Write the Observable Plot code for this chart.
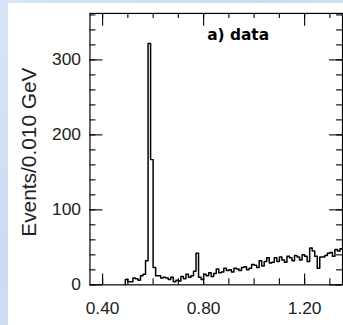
<!DOCTYPE html>
<html><head><meta charset="utf-8">
<script src="https://cdn.jsdelivr.net/npm/d3@7"></script>
<script src="https://cdn.jsdelivr.net/npm/@observablehq/plot@0.6"></script>
<style>
html,body{margin:0;padding:0;width:343px;height:325px;overflow:hidden;background:#d3e4f6;}
body{background:linear-gradient(135deg,#d6e6f7 0%,#c9dcf2 40%,#d8e7f7 70%,#cadcf1 100%);}
#panel{position:absolute;left:8px;top:3px;width:400px;height:400px;background:#fff;}
#chart{position:absolute;left:0;top:0;}
</style></head><body><div id="panel"></div><div id="chart"></div>
<script>
// histogram: bin lower edges start at binStart, width binWidth (GeV)
const binStart = 0.49;
const binWidth = 0.01;
const counts = [
  7, 4, 4, 9, 8, 6, 12, 14, 32, 322,
  167, 23, 12, 12, 9, 10, 9, 7, 10, 4,
  6, 5, 11, 8, 14, 10, 12, 18, 42, 10,
  7, 14, 12, 16, 11, 15, 21, 16, 17, 22,
  19, 20, 17, 22, 21, 19, 23, 24, 20, 22,
  27, 26, 23, 32, 25, 31, 36, 29, 30, 36,
  31, 37, 33, 30, 38, 36, 32, 39, 37, 33,
  40, 38, 31, 49, 45, 38, 22, 37, 37, 39,
  42, 43, 38, 47, 45, 48
];
const xMinorTicks = [0.4, 0.5, 0.6, 0.7, 0.8, 0.9, 1.0, 1.1, 1.2, 1.3];
const xMajorTicks = [0.4, 0.8, 1.2];
const yMinorTicks = [0, 20, 40, 60, 80, 100, 120, 140, 160, 180, 200, 220, 240, 260, 280, 300, 320, 340, 360];
const yMajorTicks = [0, 100, 200, 300];
const yLabel = "Events/0.010 GeV";
const panelLabel = "a) data";

const edges = counts.map((c, i) => +(binStart + i * binWidth).toFixed(3));
const endEdge = +(binStart + counts.length * binWidth).toFixed(3);
const steps = [{x: edges[0], y: 0}]
  .concat(counts.map((c, i) => ({x: edges[i], y: c})))
  .concat([{x: endEdge, y: counts[counts.length - 1]}]);

const W = 345, H = 325, mL = 90, mR = 1, mT = 13, mB = 39;
const pw = W - mL - mR, ph = H - mT - mB;

const chart = Plot.plot({
  width: W, height: H,
  marginLeft: mL, marginRight: mR, marginTop: mT, marginBottom: mB,
  style: {background: "transparent", fontFamily: "'Liberation Sans', Arial, sans-serif", color: "#222"},
  x: {domain: [0.35, 1.35]},
  y: {domain: [0, 362]},
  marks: [
    // inward ticks
    Plot.tickX(xMinorTicks, {x: d => d, insetTop: ph - 6, stroke: "#000", strokeWidth: 1.1}),
    Plot.tickX(xMajorTicks, {x: d => d, insetTop: ph - 11, stroke: "#000", strokeWidth: 1.1}),
    Plot.tickX(xMinorTicks, {x: d => d, insetBottom: ph - 5, stroke: "#000", strokeWidth: 1.1}),
    Plot.tickX(xMajorTicks, {x: d => d, insetBottom: ph - 13, stroke: "#000", strokeWidth: 1.1}),
    Plot.tickY(yMinorTicks, {y: d => d, insetRight: pw - 6, stroke: "#000", strokeWidth: 1.1}),
    Plot.tickY(yMajorTicks, {y: d => d, insetRight: pw - 13, stroke: "#000", strokeWidth: 1.1}),
    Plot.tickY(yMinorTicks, {y: d => d, insetLeft: pw - 6, stroke: "#000", strokeWidth: 1.1}),
    Plot.tickY(yMajorTicks, {y: d => d, insetLeft: pw - 13, stroke: "#000", strokeWidth: 1.1}),
    Plot.axisX({ticks: xMajorTicks, tickSize: 0, tickPadding: 17, tickFormat: d3.format(".2f"), fontSize: 17.5, label: null}),
    Plot.axisY({ticks: yMajorTicks, tickSize: 0, tickPadding: 9, fontSize: 17.5, label: null}),
    Plot.text([yLabel], {frameAnchor: "left", textAnchor: "middle", lineAnchor: "middle", rotate: -90, dx: -61, dy: 3, fontSize: 21, fill: "#222"}),
    Plot.text([panelLabel], {frameAnchor: "top", dx: 22, dy: 16, fontSize: 15.5, fontWeight: "bold", fontFamily: "'DejaVu Sans', sans-serif", fill: "#000"}),
    Plot.line(steps, {x: "x", y: "y", curve: "step-after", stroke: "#000", strokeWidth: 1.5}),
    Plot.frame({stroke: "#000", strokeWidth: 1.2})
  ]
});
document.getElementById("chart").appendChild(chart);
</script>
</body></html>
